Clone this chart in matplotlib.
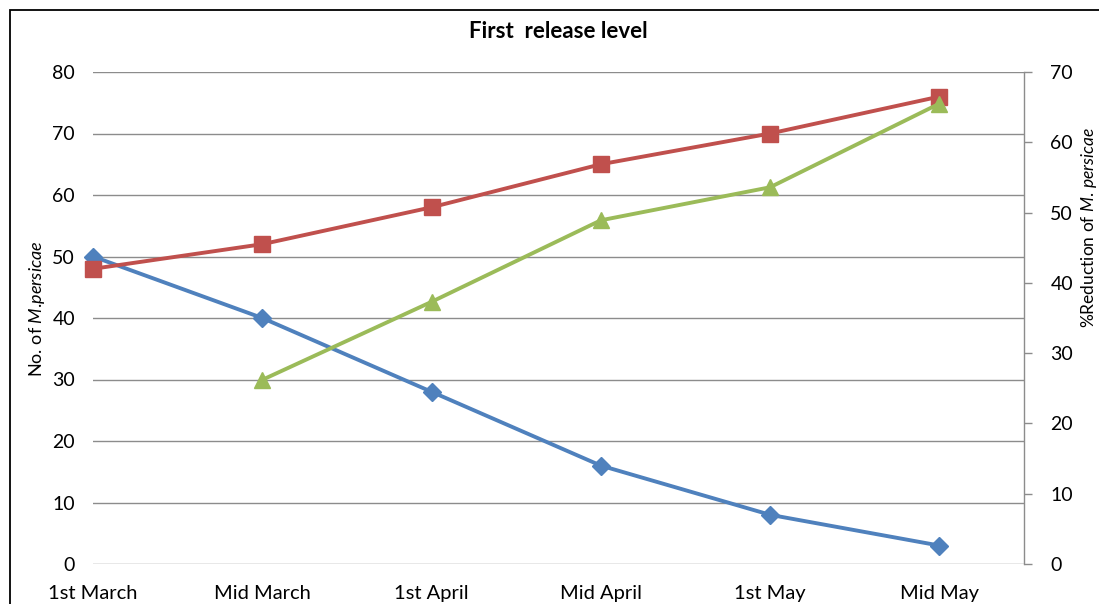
import numpy as np
import matplotlib
matplotlib.use("Agg")
import matplotlib.pyplot as plt
from matplotlib.patches import Rectangle

plt.rcParams['font.family'] = ['Lato', 'DejaVu Sans']
plt.rcParams['mathtext.fontset'] = 'custom'
plt.rcParams['mathtext.it'] = 'Lato:italic'
plt.rcParams['mathtext.rm'] = 'Lato'

# data
categories = ["1st March", "Mid March", "1st April", "Mid April", "1st May", "Mid May"]
aphid_count = [50, 40, 28, 16, 8, 3]              # left axis, blue
predator_count = [48, 52, 58, 65, 70, 76]         # left axis, red
reduction_pct = [np.nan, 26.2, 37.3, 48.9, 53.6, 65.5]  # right axis, green

BLUE = '#4F81BD'
RED = '#C0504D'
GREEN = '#9BBB59'
GRID = '#8C8C8C'

fig = plt.figure(figsize=(10.99, 6.04), dpi=100)
ax = fig.add_axes([93/1099, 40/604, (1024-93)/1099, (564-72)/604])
ax2 = ax.twinx()

x = np.arange(len(categories))

ax.plot(x, aphid_count, color=BLUE, lw=2.8, marker='D', ms=9.5, clip_on=False, zorder=3)
ax.plot(x, predator_count, color=RED, lw=2.8, marker='s', ms=11.5, clip_on=False, zorder=3)
ax2.plot(x, reduction_pct, color=GREEN, lw=2.8, marker='^', ms=12, clip_on=False, zorder=3)

ax.set_xlim(0, 5.5)
ax.set_ylim(0, 80)
ax2.set_ylim(0, 70)
ax.set_yticks(range(0, 81, 10))
ax2.set_yticks(range(0, 71, 10))
ax.set_xticks(x)
ax.set_xticklabels(categories)

ax.grid(axis='y', color=GRID, lw=1)
ax.set_axisbelow(True)
for s in ['top', 'left', 'right', 'bottom']:
    ax.spines[s].set_visible(False)
for s in ['top', 'left', 'bottom']:
    ax2.spines[s].set_visible(False)
ax2.spines['right'].set_color(GRID)
ax2.spines['right'].set_linewidth(1)

ax.tick_params(axis='y', length=0, pad=13, labelsize=14)
ax.tick_params(axis='x', length=0, pad=15, labelsize=14.5)
ax2.tick_params(axis='y', length=6, width=1, color=GRID, direction='out', pad=13, labelsize=14)

ax.set_ylabel(r"No. of $\it{M}$.$\it{persicae}$", fontsize=13)
ax.yaxis.set_label_coords(-0.049, 0.518)
ax2.set_ylabel(r"%Reduction of $\it{M}$. $\it{persicae}$", fontsize=12.5)
ax2.yaxis.set_label_coords(1.059, 0.683)

fig.text(558/1099, 1 - 31/604, "First  release level", ha='center', va='center',
         fontsize=16, fontweight='bold')

# chart border (cut at right and bottom like the source)
fig.patches.append(Rectangle((10/1099, -0.2), 1.5, 1 - 10/604 + 0.2,
                             transform=fig.transFigure, fill=False,
                             edgecolor='black', lw=1.3))

fig.savefig("out.png", dpi=100)
